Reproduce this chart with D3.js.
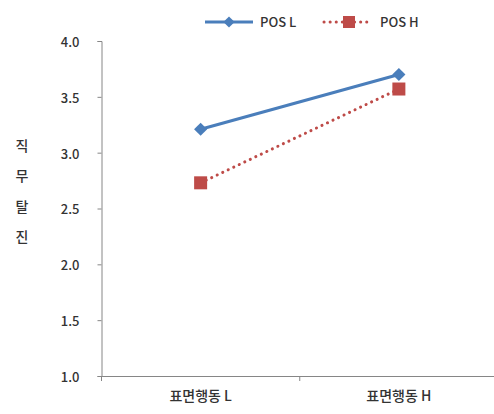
<!DOCTYPE html>
<html><head><meta charset="utf-8">
<script src="https://cdn.jsdelivr.net/npm/d3@7"></script>
<style>body{margin:0;background:#fff}svg{display:block}</style>
</head><body>
<script>
const categories = ["표면행동 L", "표면행동 H"];
const seriesNames = ["POS L", "POS H"];
const posL = [3.21, 3.70];
const posH = [2.73, 3.57];
const yTicks = [1.0, 1.5, 2.0, 2.5, 3.0, 3.5, 4.0];
const yTitle = ["직", "무", "탈", "진"];

const W = 494, H = 414;
const svg = d3.select("body").append("svg").attr("width", W).attr("height", H);
const font = "'Noto Sans CJK KR', 'Noto Sans', sans-serif";
const axisColor = "#868686";
const textColor = "#333333";

const x = d3.scaleBand().domain(categories).range([101.5, 498]);
const y = d3.scaleLinear().domain([1, 4]).range([376, 41]);

// y axis
const yAxis = svg.append("g").attr("transform", "translate(101.5,0)")
  .call(d3.axisLeft(y).tickValues(yTicks).tickFormat(d3.format(".1f")).tickSizeOuter(0).tickSize(4).tickPadding(18));
yAxis.select(".domain").attr("stroke", axisColor);
yAxis.selectAll(".tick line").attr("stroke", axisColor);
yAxis.selectAll(".tick text").attr("fill", textColor).style("font-family", font).style("font-size", "13px")
  .style("font-weight", 500).attr("dy", "0.42em");

// x axis
const xAxis = svg.append("g").attr("transform", "translate(0,376)")
  .call(d3.axisBottom(x).tickSize(5).tickSizeOuter(0).tickPadding(10).tickFormat(""));
xAxis.select(".domain").attr("stroke", axisColor);
xAxis.selectAll(".tick line").remove();
// boundary ticks between categories
const bounds = [x.range()[0], ...categories.slice(1).map(c => x(c)), x.range()[1]];
xAxis.selectAll(".btick").data(bounds).enter().append("line")
  .attr("x1", d => d).attr("x2", d => d).attr("y1", 0).attr("y2", 5).attr("stroke", axisColor);
xAxis.selectAll(".xlab").data(categories).enter().append("text")
  .attr("x", d => x(d) + x.bandwidth() / 2).attr("y", 20).attr("dy", "0.35em")
  .attr("text-anchor", "middle").attr("fill", textColor)
  .style("font-family", font).style("font-size", "14px").style("font-weight", 500).text(d => d);

// y title
svg.selectAll(".ytitle").data(yTitle).enter().append("text")
  .attr("x", 22).attr("y", (d, i) => 146 + i * 30.5).attr("dy", "0.35em")
  .attr("text-anchor", "middle").attr("fill", textColor)
  .style("font-family", font).style("font-size", "14px").style("font-weight", 500).text(d => d);

const cx = c => x(c) + x.bandwidth() / 2;
const line = d3.line().x((d, i) => cx(categories[i])).y(d => y(d));

const blue = "#4a7ebb", red = "#be4b48";

// POS H (red dotted)
svg.append("path").datum(posH).attr("d", line).attr("fill", "none")
  .attr("stroke", red).attr("stroke-width", 3).attr("stroke-dasharray", "0.1 6").attr("stroke-linecap", "round");
// POS L (blue)
svg.append("path").datum(posL).attr("d", line).attr("fill", "none")
  .attr("stroke", blue).attr("stroke-width", 3);

const diamond = d3.symbol().type(d3.symbolDiamond2).size(110);
svg.selectAll(".mL").data(posL).enter().append("path")
  .attr("d", diamond).attr("transform", (d, i) => `translate(${cx(categories[i])},${y(d)})`)
  .attr("fill", blue);
svg.selectAll(".mH").data(posH).enter().append("rect")
  .attr("x", (d, i) => cx(categories[i]) - 6.5).attr("y", d => y(d) - 6.5)
  .attr("width", 13).attr("height", 13).attr("fill", red);

// legend
const lg = svg.append("g");
lg.append("line").attr("x1", 205).attr("x2", 253).attr("y1", 22).attr("y2", 22).attr("stroke", blue).attr("stroke-width", 3);
lg.append("path").attr("d", d3.symbol().type(d3.symbolDiamond2).size(80)).attr("transform", "translate(229,22)").attr("fill", blue);
lg.append("text").attr("x", 260).attr("y", 22).attr("dy", "0.35em").attr("fill", textColor)
  .style("font-family", font).style("font-size", "13px").style("font-weight", 500).text(seriesNames[0]);
lg.append("line").attr("x1", 324).attr("x2", 372).attr("y1", 22).attr("y2", 22).attr("stroke", red).attr("stroke-width", 3)
  .attr("stroke-dasharray", "0.1 6").attr("stroke-linecap", "round");
lg.append("rect").attr("x", 343).attr("y", 16).attr("width", 12).attr("height", 12).attr("fill", red);
lg.append("text").attr("x", 380).attr("y", 22).attr("dy", "0.35em").attr("fill", textColor)
  .style("font-family", font).style("font-size", "13px").style("font-weight", 500).text(seriesNames[1]);
</script>
</body></html>
